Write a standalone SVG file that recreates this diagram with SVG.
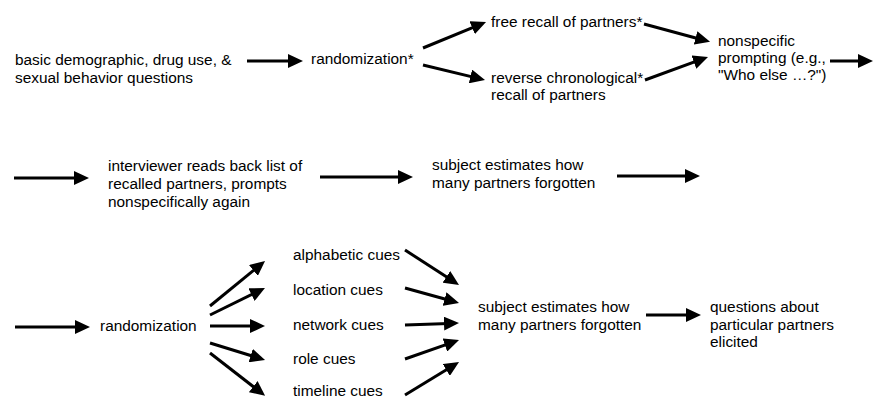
<svg xmlns="http://www.w3.org/2000/svg" width="874" height="401" viewBox="0 0 874 401">
<defs>
<marker id="ah" markerUnits="userSpaceOnUse" markerWidth="15" markerHeight="14" refX="5" refY="7" orient="auto">
<path d="M0,0 L15,7 L0,14 Z" fill="#000"/>
</marker>
<style>
text{font-family:"Liberation Sans",Arial,Helvetica,sans-serif;font-size:15.4px;fill:#000}
.c line{stroke:#000;stroke-width:3;marker-end:url(#ah)}
</style>
</defs>
<rect width="874" height="401" fill="#fff"/>
<g id="n-basic"><text x="15" y="65">basic demographic, drug use, &amp;</text><text x="15" y="83">sexual behavior questions</text></g>
<g id="n-rand1"><text x="311" y="64">randomization*</text></g>
<g id="n-free"><text x="491" y="27">free recall of partners*</text></g>
<g id="n-reverse"><text x="491" y="83">reverse chronological*</text><text x="491" y="100">recall of partners</text></g>
<g id="n-nonspec"><text x="718" y="46">nonspecific</text><text x="718" y="63">prompting (e.g.,</text><text x="718" y="80">"Who else …?")</text></g>
<g id="n-interviewer"><text x="108" y="171">interviewer reads back list of</text><text x="108" y="189">recalled partners, prompts</text><text x="108" y="207">nonspecifically again</text></g>
<g id="n-estimate1"><text x="432" y="170">subject estimates how</text><text x="432" y="188">many partners forgotten</text></g>
<g id="n-rand2"><text x="100" y="331">randomization</text></g>
<g id="n-alpha"><text x="293" y="260">alphabetic cues</text></g>
<g id="n-location"><text x="293" y="295">location cues</text></g>
<g id="n-network"><text x="293" y="330">network cues</text></g>
<g id="n-role"><text x="293" y="364">role cues</text></g>
<g id="n-timeline"><text x="293" y="396">timeline cues</text></g>
<g id="n-estimate2"><text x="478" y="312">subject estimates how</text><text x="478" y="330">many partners forgotten</text></g>
<g id="n-questions"><text x="710" y="312">questions about</text><text x="710" y="330">particular partners</text><text x="710" y="347">elicited</text></g>
<g id="connectors" class="c">
<line x1="247" y1="61" x2="293" y2="61"/>
<line x1="423" y1="48" x2="476.8" y2="25.8"/>
<line x1="423" y1="65" x2="475.3" y2="77.6"/>
<line x1="644" y1="24" x2="700.4" y2="39.2"/>
<line x1="645" y1="80" x2="698.6" y2="60.4"/>
<line x1="830" y1="61" x2="863" y2="61"/>
<line x1="14" y1="178" x2="79" y2="178"/>
<line x1="320" y1="177" x2="403" y2="177"/>
<line x1="617" y1="176" x2="690" y2="176"/>
<line x1="15" y1="327" x2="80" y2="327"/>
<line x1="210" y1="306" x2="257.3" y2="267.3"/>
<line x1="210" y1="315" x2="256" y2="292.4"/>
<line x1="210" y1="326" x2="255" y2="326"/>
<line x1="210" y1="343" x2="255.5" y2="357"/>
<line x1="210" y1="353" x2="257.2" y2="389.7"/>
<line x1="405" y1="250" x2="450.6" y2="279.6"/>
<line x1="405" y1="288" x2="449.4" y2="300.3"/>
<line x1="405" y1="325" x2="449" y2="323.4"/>
<line x1="405" y1="359" x2="449.6" y2="343.3"/>
<line x1="405" y1="395" x2="450.5" y2="367.3"/>
<line x1="646" y1="315" x2="691" y2="315"/>
</g>
</svg>
